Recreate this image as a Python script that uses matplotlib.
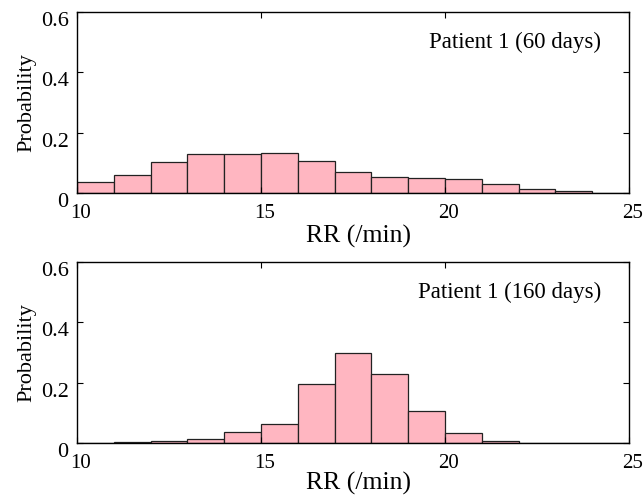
import numpy as np
import matplotlib.pyplot as plt
from matplotlib.transforms import ScaledTranslation

plt.rcParams['font.family'] = ['Liberation Serif', 'DejaVu Serif']

# bin edges (RR, breaths per minute)
bin_edges = np.arange(10, 26, 1)

# probability per bin
p_60 = [0.036, 0.061, 0.102, 0.131, 0.128, 0.133, 0.106, 0.071,
        0.054, 0.050, 0.045, 0.030, 0.014, 0.006, 0.001]
p_160 = [0.0005, 0.002, 0.007, 0.013, 0.036, 0.063, 0.196, 0.299,
         0.229, 0.107, 0.032, 0.007, 0.001, 0.0003, 0.0]

labels = ['Patient 1 (60 days)', 'Patient 1 (160 days)']

fig = plt.figure(figsize=(6.44, 4.95), dpi=100)
ax1 = fig.add_axes([0.1196, 0.610, 0.857, 0.3658])
ax2 = fig.add_axes([0.1196, 0.105, 0.857, 0.3657])

# small right shift of x tick labels (as in the original)
shift = ScaledTranslation(4 / 100, 0, fig.dpi_scale_trans)

for ax, probs, lab, xl_y in zip([ax1, ax2], [p_60, p_160], labels,
                                [-0.175, -0.162]):
    ax.bar(bin_edges[:-1], probs, width=np.diff(bin_edges), align='edge',
           color='#ffb6c1', edgecolor='#222222', linewidth=0.9)
    ax.set_xlim(10, 25)
    ax.set_ylim(0, 0.6)
    ax.set_xticks([10, 15, 20, 25])
    ax.set_yticks([0, 0.2, 0.4, 0.6])
    ax.set_yticklabels(['0', '0.2', '0.4', '0.6'], va='top')
    ax.tick_params(direction='in', top=True, right=True, length=4, width=0.8)
    ax.tick_params(axis='x', pad=8, labelsize=15)
    ax.tick_params(axis='y', pad=6, labelsize=16)
    for t in ax.get_xticklabels():
        t.set_transform(t.get_transform() + shift)
    for s in ax.spines.values():
        s.set_linewidth(1.0)
    ax.set_xlabel('RR (/min)', fontsize=18.5)
    ax.xaxis.set_label_coords(0.51, xl_y)
    ax.set_ylabel('Probability', fontsize=16)
    ax.yaxis.set_label_coords(-0.074, 0.5)
    ax.text(0.95, 0.83, lab, transform=ax.transAxes, ha='right', va='center',
            fontsize=16.5)

plt.savefig('out.png', dpi=100)
